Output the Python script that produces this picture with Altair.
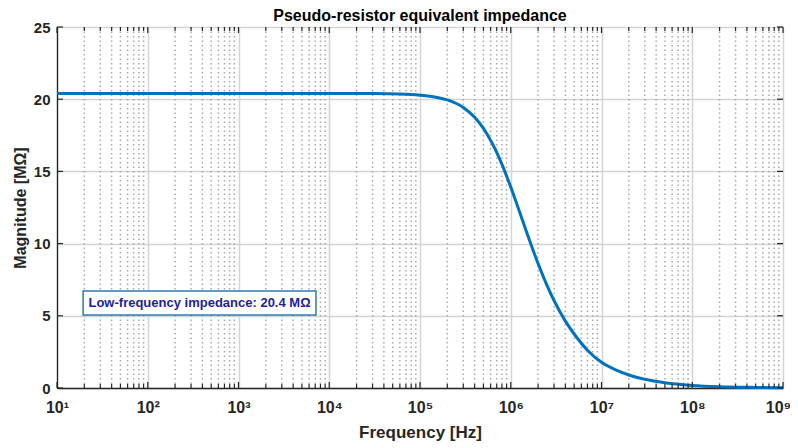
import json
import altair as alt
import pandas as pd

# ---- data ----
freq_hz = [10, 1e2, 1e3, 1e4, 3e4, 6e4, 1e5, 1.5e5, 2e5, 3e5, 4e5, 5e5, 6e5, 7e5,
           8e5, 1e6, 1.25e6, 1.5e6, 2e6, 2.5e6, 3e6, 4e6, 5e6, 7e6, 1e7, 1.5e7,
           2e7, 3e7, 5e7, 1e8, 2e8, 5e8, 1e9]
magnitude_mohm = [20.40, 20.40, 20.40, 20.40, 20.39, 20.36, 20.28, 20.14, 19.95, 19.43,
                  18.75, 17.98, 17.15, 16.32, 15.49, 13.92, 12.20, 10.77, 8.62, 7.13,
                  6.06, 4.63, 3.74, 2.62, 1.78, 1.20, 0.90, 0.60, 0.36, 0.18, 0.09,
                  0.04, 0.02]

decades = [1e1, 1e2, 1e3, 1e4, 1e5, 1e6, 1e7, 1e8, 1e9]
decade_labels = ["10¹", "10²", "10³", "10⁴", "10⁵", "10⁶", "10⁷", "10⁸", "10⁹"]
minor_mult = [2, 3, 4, 5, 6, 7, 8, 9]
y_ticks = [0, 5, 10, 15, 20, 25]

title_text = "Pseudo-resistor equivalent impedance"
x_title = "Frequency [Hz]"
y_title = "Magnitude [MΩ]"
annotation_text = "Low-frequency impedance: 20.4 MΩ"
# annotation box extents in data units
ann_x = [19.4, 7140]
ann_y = [5.05, 6.71]
ann_center = (372, 5.88)

# ---- derived tables ----
minor_freqs = [m * d for d in decades[:-1] for m in minor_mult]
df_line = pd.DataFrame({"f": freq_hz, "mag": magnitude_mohm})
df_minor = pd.DataFrame({"f": minor_freqs})

X_MIN, X_MAX = 10, 1e9
Y_MIN, Y_MAX = 0, 25
W, H = 726, 361
px_per_dec = W / 8.0
px_per_unit = H / 25.0

major_len = 6
minor_len = 4
rows = []
for f in decades:
    rows.append({"x": f, "x2": f, "y": Y_MIN, "y2": Y_MIN + major_len / px_per_unit})
    rows.append({"x": f, "x2": f, "y": Y_MAX, "y2": Y_MAX - major_len / px_per_unit})
for f in minor_freqs:
    rows.append({"x": f, "x2": f, "y": Y_MIN, "y2": Y_MIN + minor_len / px_per_unit})
    rows.append({"x": f, "x2": f, "y": Y_MAX, "y2": Y_MAX - minor_len / px_per_unit})
for v in y_ticks:
    rows.append({"x": X_MIN, "x2": X_MIN * 10 ** (major_len / px_per_dec), "y": v, "y2": v})
    rows.append({"x": X_MAX, "x2": X_MAX / 10 ** (major_len / px_per_dec), "y": v, "y2": v})
df_ticks = pd.DataFrame(rows)

df_ann = pd.DataFrame({"x": [ann_x[0]], "x2": [ann_x[1]], "y": [ann_y[0]], "y2": [ann_y[1]],
                       "tx": [ann_center[0]], "ty": [ann_center[1]], "t": [annotation_text]})

narrow = "Liberation Sans Narrow, Arial Narrow, Liberation Sans, sans-serif"
sans = "Liberation Sans, Arial, sans-serif"

xscale = alt.Scale(type="log", domain=[X_MIN, X_MAX], nice=False)
yscale = alt.Scale(domain=[Y_MIN, Y_MAX], nice=False, zero=False)

label_expr = json.dumps(decade_labels, ensure_ascii=False) + "[round(log(datum.value)/LN10)-1]"

minor_grid = alt.Chart(df_minor).mark_rule(
    color="#a8a8a8", strokeDash=[1.5, 3], strokeWidth=1.5
).encode(x=alt.X("f:Q", scale=xscale))

line = alt.Chart(df_line).mark_line(color="#0072BD", strokeWidth=3, interpolate="monotone").encode(
    x=alt.X("f:Q", scale=xscale, title=x_title,
            axis=alt.Axis(values=decades, labelExpr=label_expr, grid=True, ticks=False, tickSize=0,
                          gridColor="#d4d4d4", gridWidth=1.5, labelFont=narrow, labelFontSize=16,
                          labelFontWeight="bold", labelColor="#262626", labelPadding=11,
                          labelOffset={"condition": {"test": "datum.value >= 1e9", "value": -5},
                                       "value": 0},
                          titleFont=narrow, titleFontSize=17, titleFontWeight="bold",
                          titleColor="#262626", titlePadding=9, domainColor="#262626",
                          domainWidth=1.3, labelFlush=False)),
    y=alt.Y("mag:Q", scale=yscale, title=y_title,
            axis=alt.Axis(values=y_ticks, grid=True, ticks=False, tickSize=0,
                          gridColor="#d4d4d4", gridWidth=1.5, labelFont=sans, labelFontSize=15,
                          labelFontWeight="bold", labelColor="#262626", labelPadding=7,
                          titleFont=sans, titleFontSize=16, titleFontWeight="bold",
                          titleColor="#262626", titlePadding=5, domainColor="#262626",
                          domainWidth=1.3)),
)

ticks = alt.Chart(df_ticks).mark_rule(color="#262626", strokeWidth=1.2).encode(
    x=alt.X("x:Q", scale=xscale), x2="x2:Q",
    y=alt.Y("y:Q", scale=yscale), y2="y2:Q",
)

ann_box = alt.Chart(df_ann).mark_rect(fill="white", stroke="#2b7bb0", strokeWidth=1.5).encode(
    x=alt.X("x:Q", scale=xscale), x2="x2:Q",
    y=alt.Y("y:Q", scale=yscale), y2="y2:Q",
)
ann_text = alt.Chart(df_ann).mark_text(
    font=sans, fontSize=13, fontWeight="bold", color="#1e1e9c", align="center", baseline="middle"
).encode(
    x=alt.X("tx:Q", scale=xscale), y=alt.Y("ty:Q", scale=yscale), text="t:N"
)

chart = alt.layer(minor_grid, line, ticks, ann_box, ann_text).properties(
    width=W, height=H,
    title=alt.TitleParams(title_text, font=sans, fontSize=16, fontWeight="bold",
                          color="black", offset=4, dy=8, anchor="middle"),
    autosize=alt.AutoSizeParams(type="none"),
    padding={"left": 49, "top": 19, "right": 7, "bottom": 56},
).configure_view(stroke="#262626", strokeWidth=1.3).configure(background="white")

chart.save("out.html", embed_options={"renderer": "svg", "actions": False})
